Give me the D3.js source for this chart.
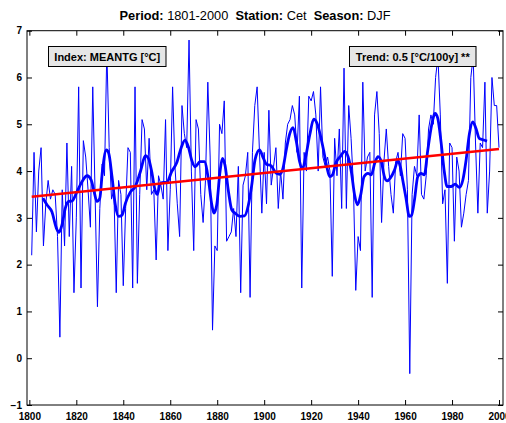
<!DOCTYPE html>
<html><head><meta charset="utf-8">
<script src="https://cdn.jsdelivr.net/npm/d3@7"></script>
<style>
html,body{margin:0;padding:0;background:#fff;}
svg{display:block;font-family:"Liberation Sans",Arial,Helvetica,sans-serif;}
</style></head>
<body><svg id="c" width="506" height="423"></svg>
<script>
const firstYear = 1801;
const values = [
2.2,4.4,2.7,4.0,4.5,2.4,3.3,3.8,3.4,3.6,
3.5,2.6,0.45,3.6,2.4,4.6,2.6,4.1,1.4,3.0,
5.8,1.5,4.65,4.3,3.6,2.8,5.8,3.5,1.1,3.2,
4.15,3.9,6.6,4.5,3.4,3.6,1.4,3.8,3.5,1.55,
3.2,4.5,4.4,1.5,5.8,1.6,3.5,5.1,4.9,3.6,
4.7,3.5,3.6,2.1,3.9,3.7,3.4,5.1,2.3,3.6,
5.8,4.1,3.3,2.6,5.4,4.8,4.5,6.8,4.0,2.3,
5.1,4.9,3.5,2.9,3.8,5.9,4.3,0.6,2.4,2.3,
5.0,4.8,5.5,2.5,2.6,2.7,3.2,2.6,4.1,1.4,
3.7,3.9,4.4,1.3,4.4,5.4,5.8,4.4,3.1,4.4,
3.3,5.3,3.7,4.1,4.5,3.2,4.0,3.4,4.6,5.0,
5.1,5.4,5.2,4.4,5.6,1.5,4.4,4.0,5.6,5.5,
5.7,5.2,4.0,5.8,4.3,4.1,4.3,4.0,1.75,4.7,
3.9,4.9,3.2,6.2,3.2,5.4,4.7,3.7,1.45,2.6,
2.3,5.9,4.0,4.3,4.4,1.3,5.2,5.7,4.8,2.9,
4.2,4.9,4.1,3.5,3.1,4.2,4.4,3.9,4.8,4.7,
3.6,-0.33,3.5,4.1,3.9,5.2,3.5,3.4,3.9,4.9,
5.2,5.0,6.0,6.45,5.2,3.3,3.6,1.6,4.6,4.5,
2.5,4.3,4.0,2.8,3.1,3.5,3.8,6.0,6.45,4.6,
3.1,4.6,4.5,5.9,3.1,4.0,6.0,5.4,5.4,4.5
];
const smoothYears = [1805.8,1807.5,1809.6,1811.5,1812.6,1813.9,1815.3,1816.7,1818.2,1820.3,1822.4,1824.6,1826.3,1827.4,1828.8,1830,1831.1,1832.8,1833.8,1835.2,1836.6,1838,1839.5,1840.9,1843,1845.1,1847.3,1849.4,1850.7,1852.1,1853.5,1854.5,1855.6,1857,1858.5,1860.6,1862.7,1864.6,1866.3,1867.7,1869.1,1870.6,1872.7,1874.5,1876.2,1877.7,1878.6,1879.8,1881.2,1882.2,1883.3,1884.8,1886.2,1887.6,1889.7,1891.6,1893.3,1894.7,1896.1,1898,1899.7,1900.9,1903,1905.2,1906.6,1908,1909.4,1910.9,1912.3,1913.7,1915.1,1916.3,1917.7,1919.4,1921.1,1922.5,1923.9,1925.4,1926.8,1927.9,1929.1,1930.5,1932.4,1934.3,1935.7,1937.1,1938.5,1939.7,1941.1,1942.5,1944.2,1945.6,1947.1,1948.5,1949.9,1951.2,1952.3,1953.7,1955.5,1956.9,1958,1959,1960.4,1961.8,1962.8,1964,1965.4,1966.8,1968.2,1969.6,1971.3,1972.8,1973.9,1975.3,1976.7,1977.9,1979.6,1981.3,1983.1,1984.6,1986,1987.4,1988.8,1990.2,1991.6,1993.1,1994.9];
const smoothValues = [3.42,3.28,3.13,2.78,2.69,2.85,3.2,3.35,3.36,3.56,3.77,3.9,3.81,3.6,3.35,3.42,3.99,4.45,4.38,3.88,3.28,3.03,3.06,3.31,3.55,3.67,3.99,4.33,4.27,3.99,3.6,3.5,3.72,3.76,3.76,3.99,4.17,4.49,4.66,4.52,4.24,4.09,4.2,4.2,3.84,3.28,3.1,3.28,3.99,4.27,4.13,3.56,3.17,3.1,3.03,3.04,3.28,3.7,4.24,4.45,4.27,4.15,4.11,3.95,3.93,4.06,4.45,4.8,4.93,4.63,4.2,4.05,4.31,4.77,5.11,5.02,4.77,4.42,4.06,3.88,3.92,4.17,4.31,4.42,4.31,3.99,3.49,3.28,3.49,3.88,3.95,3.92,4.17,4.31,4.2,3.88,3.79,3.85,4.02,4.22,4.09,3.81,3.42,3.03,3.06,3.38,3.88,3.95,3.92,4.42,4.98,5.23,5.13,4.63,3.99,3.67,3.67,3.72,3.65,3.81,4.24,4.8,5.05,4.91,4.7,4.67,4.64];
const trendYears = [1801, 2000];
const trendValues = [3.45, 4.47];
const xTicks = [1800,1820,1840,1860,1880,1900,1920,1940,1960,1980,2000];
const yTicks = [-1,0,1,2,3,4,5,6,7];
const titleParts = [["Period: ",true],["1801-2000  ",false],["Station: ",true],["Cet  ",false],["Season: ",true],["DJF",false]];
const indexLabel = "Index: MEANTG [°C]";
const trendLabel = "Trend: 0.5 [°C/100y] **";

const svg = d3.select("#c");
const L=27, R=503, T=30.7, B=405;
const x = d3.scaleLinear().domain([1799,2001.7]).range([L,R]);
const y = d3.scaleLinear().domain([-1,7]).range([B,T]);

const series = values.map((v,i)=>({year:firstYear+i, v}));
const smooth = smoothYears.map((yr,i)=>({year:yr, v:smoothValues[i]}));
const trend = trendYears.map((yr,i)=>({year:yr, v:trendValues[i]}));

const line = d3.line().x(d=>x(d.year)).y(d=>y(d.v));
svg.append("path").datum(series).attr("d",line).attr("fill","none").attr("stroke","#0000ff").attr("stroke-width",1);
svg.append("path").datum(smooth).attr("d",line.curve(d3.curveMonotoneX)).attr("fill","none").attr("stroke","#0000ff").attr("stroke-width",2.8).attr("stroke-linejoin","round");
svg.append("path").datum(trend).attr("d",d3.line().x(d=>x(d.year)).y(d=>y(d.v))).attr("fill","none").attr("stroke","#ff0000").attr("stroke-width",2.5);

// axes
const tickFont = "bold 10px 'Liberation Sans', Arial, sans-serif";
const gB = svg.append("g").attr("transform",`translate(0,${B})`).call(d3.axisBottom(x).tickValues(xTicks).tickFormat(d3.format("d")).tickSizeInner(-5).tickSizeOuter(0).tickPadding(5));
const gT = svg.append("g").attr("transform",`translate(0,${T})`).call(d3.axisTop(x).tickValues(xTicks).tickFormat("").tickSizeInner(-5).tickSizeOuter(0));
const gL = svg.append("g").attr("transform",`translate(${L},0)`).call(d3.axisLeft(y).tickValues(yTicks).tickFormat(d=>d<0?"\u2212"+Math.abs(d):d).tickSizeInner(-5).tickSizeOuter(0).tickPadding(5));
const gR = svg.append("g").attr("transform",`translate(${R},0)`).call(d3.axisRight(y).tickValues(yTicks).tickFormat("").tickSizeInner(-5).tickSizeOuter(0));
[gB,gT,gL,gR].forEach(g=>{
  g.select(".domain").remove();
  g.selectAll("line").attr("stroke","#000").attr("stroke-width",1);
  g.selectAll("text").style("font",tickFont).attr("fill","#000");
});
gB.selectAll("text").attr("dy","0.95em");
svg.append("rect").attr("x",L).attr("y",T).attr("width",R-L).attr("height",B-T).attr("fill","none").attr("stroke","#000").attr("stroke-width",1);

// title
const tt = svg.append("text").attr("x",255).attr("y",20).attr("text-anchor","middle").style("font-size","12.8px").attr("fill","#000").attr("xml:space","preserve");
titleParts.forEach(p=>tt.append("tspan").text(p[0]).style("font-weight",p[1]?"bold":"normal"));

// label boxes
function box(x0,y0,w,h,label){
  svg.append("rect").attr("x",x0).attr("y",y0).attr("width",w).attr("height",h).attr("fill","#e6e6e6").attr("stroke","#000").attr("stroke-width",1);
  svg.append("text").attr("x",x0+w/2).attr("y",y0+h/2+4).attr("text-anchor","middle").style("font","bold 11px 'Liberation Sans', Arial, sans-serif").attr("fill","#000").text(label);
}
box(48.5,46.5,117.5,20,indexLabel);
box(349.5,46.5,126.5,20,trendLabel);
</script></body></html>
